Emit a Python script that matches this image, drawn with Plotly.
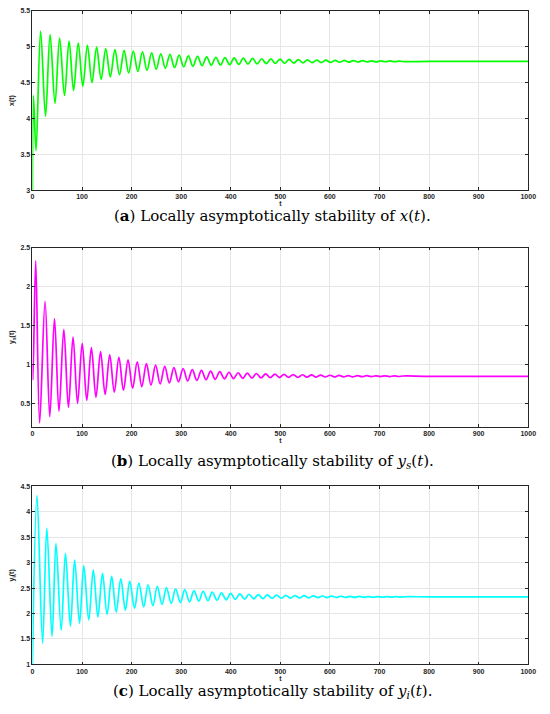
import plotly.graph_objects as go

# ---- x(t), panel (a): extremes ----
x_start_t = [0.0, 2.0, 7.3]
x_start_v = [3.0, 4.32, 3.55]
x_peak_t = [16.5, 35.6, 54.8, 73.9, 92.4, 110.9, 129.4, 147.9, 166.4, 184.9,
            203.4, 221.9, 240.4, 258.9, 277.4, 295.9, 314.4, 332.9, 351.4, 369.9,
            388.4, 406.9, 425.4, 443.9, 462.4, 480.9, 499.4, 517.9, 536.4, 554.9,
            573.4, 591.9, 610.4, 628.9, 647.4, 665.9, 684.4, 702.9, 721.4, 739.9]
x_peak_v = [5.22, 5.17, 5.12, 5.08, 5.05, 5.02, 4.995, 4.975, 4.96, 4.95,
            4.94, 4.928, 4.915, 4.903, 4.893, 4.883, 4.874, 4.866, 4.86, 4.854,
            4.849, 4.845, 4.841, 4.837, 4.833, 4.83, 4.827, 4.824, 4.821, 4.818,
            4.815, 4.813, 4.811, 4.809, 4.807, 4.806, 4.804, 4.803, 4.802, 4.801]
x_trough_t = [26.4, 45.5, 64.7, 83.0, 101.6, 120.1, 138.6, 157.1, 175.6, 194.1,
              212.6, 231.1, 249.6, 268.1, 286.6, 305.1, 323.6, 342.1, 360.6, 379.1,
              397.6, 416.1, 434.6, 453.1, 471.6, 490.1, 508.6, 527.1, 545.6, 564.1,
              582.6, 601.1, 619.6, 638.1, 656.6, 675.1, 693.6, 712.1, 730.6, 749.1]
x_trough_v = [4.03, 4.21, 4.32, 4.39, 4.45, 4.50, 4.545, 4.58, 4.61, 4.635,
              4.655, 4.672, 4.687, 4.70, 4.71, 4.72, 4.728, 4.735, 4.741, 4.746,
              4.75, 4.754, 4.758, 4.761, 4.764, 4.767, 4.77, 4.773, 4.776, 4.778,
              4.78, 4.782, 4.784, 4.786, 4.787, 4.789, 4.79, 4.791, 4.792, 4.793]
x_end = 4.795

# ---- y_s(t), panel (b) ----
ys_start_t = [0.0, 1.0]
ys_start_v = [1.0, 0.8]
ys_peak_t = [6.6, 25.5, 44.5, 63.3, 81.9, 100.4, 118.9, 137.4, 155.9, 174.4,
             192.9, 211.4, 229.9, 248.4, 266.9, 285.4, 303.9, 322.4, 340.9, 359.4,
             377.9, 396.4, 414.9, 433.4, 451.9, 470.4, 488.9, 507.4, 525.9, 544.4,
             562.9, 581.4, 599.9, 618.4, 636.9, 655.4, 673.9, 692.4, 710.9, 729.4,
             747.9]
ys_peak_v = [2.33, 1.81, 1.59, 1.45, 1.35, 1.27, 1.215, 1.165, 1.125, 1.09,
             1.06, 1.035, 1.012, 0.992, 0.975, 0.96, 0.946, 0.934, 0.924, 0.915,
             0.907, 0.9, 0.894, 0.889, 0.884, 0.88, 0.877, 0.874, 0.871, 0.868,
             0.866, 0.864, 0.862, 0.86, 0.858, 0.857, 0.856, 0.855, 0.854, 0.853,
             0.852]
ys_trough_t = [14.5, 35.0, 53.5, 72.6, 91.0, 109.6, 128.1, 146.6, 165.1, 183.6,
               202.1, 220.6, 239.1, 257.6, 276.1, 294.6, 313.1, 331.6, 350.1, 368.6,
               387.1, 405.6, 424.1, 442.6, 461.1, 479.6, 498.1, 516.6, 535.1, 553.6,
               572.1, 590.6, 609.1, 627.6, 646.1, 664.6, 683.1, 701.6, 720.1, 738.6]
ys_trough_v = [0.25, 0.33, 0.40, 0.45, 0.50, 0.54, 0.58, 0.615, 0.645, 0.67,
               0.695, 0.715, 0.735, 0.75, 0.765, 0.778, 0.789, 0.797, 0.804, 0.81,
               0.815, 0.819, 0.822, 0.825, 0.828, 0.83, 0.832, 0.834, 0.835, 0.837,
               0.838, 0.839, 0.84, 0.841, 0.842, 0.843, 0.844, 0.845, 0.845, 0.846]
ys_end = 0.848

# ---- y_i(t), panel (c) ----
yi_start_t = [0.0]
yi_start_v = [1.0]
yi_peak_t = [9.2, 29.0, 47.5, 66.6, 85.1, 103.6, 122.8, 141.3, 159.8, 178.2,
             196.2, 214.7, 233.2, 251.7, 270.2, 288.7, 307.2, 325.7, 344.2, 362.7,
             381.2, 399.7, 418.2, 436.7, 455.2, 473.7, 492.2, 510.7, 529.2, 547.7,
             566.2, 584.7, 603.2, 621.7, 640.2, 658.7, 677.2, 695.7, 714.2, 732.7,
             751.2]
yi_peak_v = [4.32, 3.68, 3.38, 3.18, 3.05, 2.94, 2.855, 2.79, 2.73, 2.68,
             2.636, 2.6, 2.565, 2.535, 2.51, 2.487, 2.468, 2.45, 2.435, 2.42,
             2.407, 2.396, 2.387, 2.379, 2.372, 2.366, 2.361, 2.357, 2.353, 2.35,
             2.347, 2.344, 2.342, 2.34, 2.338, 2.336, 2.334, 2.333, 2.332, 2.331,
             2.33]
yi_trough_t = [20.5, 39.6, 58.0, 76.6, 95.0, 113.5, 132.0, 150.5, 169.0, 187.5,
               206.0, 224.5, 243.0, 261.5, 280.0, 298.5, 317.0, 335.5, 354.0, 372.5,
               391.0, 409.5, 428.0, 446.5, 465.0, 483.5, 502.0, 520.5, 539.0, 557.5,
               576.0, 594.5, 613.0, 631.5, 650.0, 668.5, 687.0, 705.5, 724.0, 742.5]
yi_trough_v = [1.42, 1.55, 1.67, 1.75, 1.81, 1.875, 1.935, 1.985, 2.03, 2.065,
               2.1, 2.13, 2.155, 2.178, 2.198, 2.215, 2.23, 2.242, 2.252, 2.261,
               2.269, 2.276, 2.282, 2.287, 2.292, 2.296, 2.3, 2.303, 2.306, 2.309,
               2.311, 2.313, 2.315, 2.317, 2.318, 2.319, 2.32, 2.321, 2.322, 2.323]
yi_end = 2.328

t_tail = [800, 1000]

y_titles = ["x(t)", "y<sub>s</sub>(t)", "y<sub>i</sub>(t)"]
y_ranges = [[3, 5.5], [0.2, 2.5], [1, 4.5]]
colors = ["#00ff00", "#ff00ff", "#00ffff"]
captions = [
    "(<b>a</b>) Locally asymptotically stability of <i>x</i>(<i>t</i>).",
    "(<b>b</b>) Locally asymptotically stability of <i>y<sub>s</sub></i>(<i>t</i>).",
    "(<b>c</b>) Locally asymptotically stability of <i>y<sub>i</sub></i>(<i>t</i>).",
]


def build(st, sv, pt, pv, tt, tv, end):
    pts = sorted(zip(st + pt + tt, sv + pv + tv))
    pts += [(t, end) for t in t_tail]
    return [p[0] for p in pts], [p[1] for p in pts]


series = [
    build(x_start_t, x_start_v, x_peak_t, x_peak_v, x_trough_t, x_trough_v, x_end),
    build(ys_start_t, ys_start_v, ys_peak_t, ys_peak_v, ys_trough_t, ys_trough_v, ys_end),
    build(yi_start_t, yi_start_v, yi_peak_t, yi_peak_v, yi_trough_t, yi_trough_v, yi_end),
]

W, H = 550, 714
# plot boxes in pixels (top, bottom)
boxes = [(7, 188), (246, 427), (487, 667)]
cap_y = [214, 462, 694]
x_dom = [31 / W, 536 / W]

axcol = "#262626"
tickfont = dict(family="Liberation Sans", size=7, color=axcol, weight="bold")

fig = go.Figure()
for i, ((t, v), col) in enumerate(zip(series, colors)):
    sfx = "" if i == 0 else str(i + 1)
    fig.add_trace(go.Scatter(x=t, y=v, mode="lines",
                             line=dict(color=col, width=1.7, shape="spline", smoothing=1.0),
                             xaxis="x" + sfx, yaxis="y" + sfx, showlegend=False,
                             hoverinfo="skip"))
    top, bot = boxes[i]
    common = dict(showgrid=True, gridcolor="#e6e6e6", gridwidth=0.7, zeroline=False,
                  showline=True, linecolor=axcol, linewidth=0.8, mirror="ticks",
                  ticks="inside", ticklen=3, tickcolor=axcol, tickwidth=0.6,
                  tickfont=tickfont)
    fig.update_layout(**{
        "xaxis" + sfx: dict(common, domain=x_dom, range=[0, 1000], tick0=0, dtick=100,
                            anchor="y" + sfx,
                            title=dict(text="t", font=tickfont, standoff=0)),
        "yaxis" + sfx: dict(common, domain=[(H - bot) / H, (H - top) / H],
                            range=y_ranges[i], tick0=0, dtick=0.5, anchor="x" + sfx,
                            title=dict(text=y_titles[i], font=tickfont, standoff=4)),
    })
    fig.add_annotation(text=captions[i], xref="paper", yref="paper",
                       x=0.5, y=(H - cap_y[i]) / H, xanchor="center", yanchor="middle",
                       showarrow=False,
                       font=dict(family="DejaVu Serif", size=15, color="black"))

fig.update_layout(width=W, height=H, margin=dict(l=0, r=0, t=0, b=0),
                  paper_bgcolor="white", plot_bgcolor="white")

# the page body has a default 8px margin; drop it so the figure sits at the corner
fig.write_html("out.html", config={"displayModeBar": False},
               post_script="document.body.style.margin='0px';")
